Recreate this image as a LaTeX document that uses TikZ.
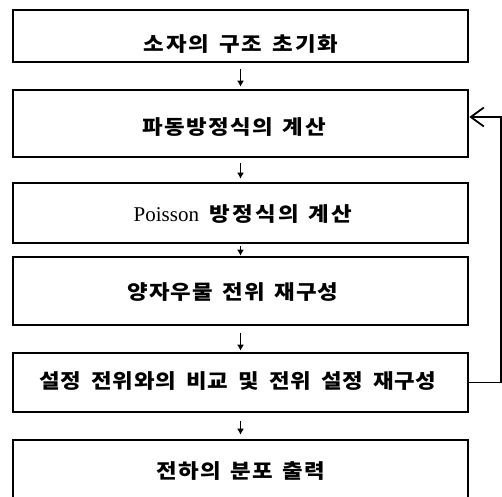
\documentclass[tikz,border=0pt]{standalone}
\usepackage{fontspec}
\setmainfont{Liberation Serif}
\newfontfamily\kr{Noto Sans CJK KR}[FakeStretch=1.12,LetterSpace=4]
\usetikzlibrary{arrows.meta}
\begin{document}
\begin{tikzpicture}[x=1pt,y=-1pt,
  box/.style={draw, line width=2.6pt, minimum width=455pt, inner sep=0pt},
  txt/.style={font=\kr\bfseries\fontsize{20}{24}\selectfont, inner sep=0pt, execute at begin node={\spaceskip=10pt\relax}},
  arr/.style={line width=1.8pt, -{Latex[length=6pt,width=7pt]}},
  fb/.style={line width=1.7pt, -{Straight Barb[length=13pt,width=19pt,line width=1.8pt]}}]
\useasboundingbox (0,0) rectangle (502,496);
\clip (0,0) rectangle (502,496);
\node[box, minimum height=52pt] (b1) at (240.5,36) {};
\node[box, minimum height=67pt] (b2) at (240.5,123.5) {};
\node[box, minimum height=60pt] (b3) at (240.5,213) {};
\node[box, minimum height=68pt] (b4) at (240.5,291) {};
\node[box, minimum height=59pt] (b5) at (240.5,382.5) {};
\node[box, minimum height=65pt] (b6) at (240.5,472.5) {};
\node[txt] (t1) at (241,44) {\addfontfeature{LetterSpace=10}소자의 구조 초기화};
\node[txt] (t2) at (234,127) {\addfontfeature{LetterSpace=7}파동방정식의 계산};
\node[txt] (t3) at (243,214) {{\rmfamily\mdseries\fontsize{21}{24}\selectfont Poisson} \addfontfeature{LetterSpace=12}방정식의 계산};
\node[txt] (t4) at (233,292) {양자우물 전위 재구성};
\node[txt] (t5) at (238,381) {설정 전위와의 비교 및 전위 설정 재구성};
\node[txt] (t6) at (241,471) {\addfontfeature{LetterSpace=5}전하의 분포 출력};
\draw[arr, shorten <=6pt, shorten >=2pt] (b1) -- (b2);
\draw[arr, shorten <=5pt, shorten >=3pt] (b2) -- (b3);
\draw[arr, shorten <=2pt, shorten >=0pt] (b3) -- (b4);
\draw[arr, shorten <=7pt, shorten >=1pt] (b4) -- (b5);
\draw[arr, shorten <=8pt, shorten >=4pt] (b5) -- (b6);
\draw[fb] (b5.east) -- ++(32,0) |- ([yshift=6.5pt]b2.east);
\end{tikzpicture}
\end{document}
